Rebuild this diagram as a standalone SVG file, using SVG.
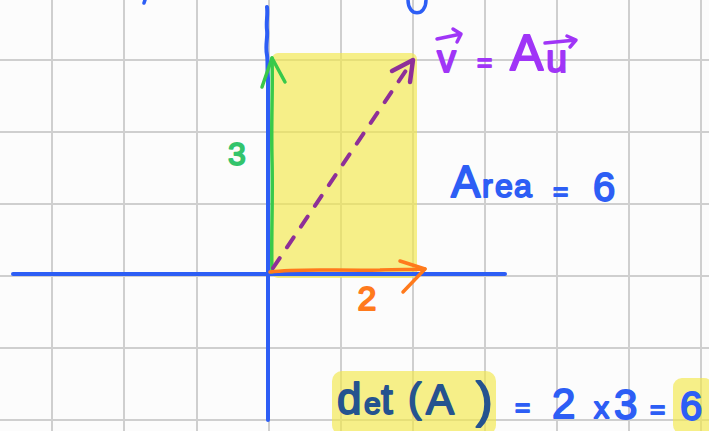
<svg xmlns="http://www.w3.org/2000/svg" width="709" height="431" viewBox="0 0 709 431">
  <style>
    .grid { stroke: #cfcfcf; stroke-width: 2; fill: none; }
    .axis { stroke: #2d5ef5; stroke-width: 4; fill: none; stroke-linecap: round; stroke-linejoin: round; }
    .hl { fill: #f3e84a; opacity: 0.65; }
    .ink { fill: none; stroke-linecap: round; stroke-linejoin: round; }
    .txt { font-family: "Liberation Sans", "Noto Sans", sans-serif; stroke-width: 1.8; stroke-linejoin: round; }
    .purple { fill: #a035f7; stroke: #a035f7; }
    .blue { fill: #2d5ef5; stroke: #2d5ef5; }
    .navy { fill: #25538f; stroke: #25538f; }
    .green { fill: #33c46c; stroke: #33c46c; }
    .orange { fill: #ff7a1c; stroke: #ff7a1c; }
  </style>
  <rect width="709" height="431" fill="#fcfcfc"/>
  <g id="grid" class="grid">
    <path d="M52,0V431M124,0V431M197,0V431M269,0V431M341,0V431M413,0V431M485,0V431M557,0V431M629,0V431M701,0V431"/>
    <path d="M0,60H709M0,132H709M0,204H709M0,276H709M0,348H709M0,420H709"/>
  </g>
  <g id="highlights">
    <rect class="hl" x="272" y="53" width="145" height="225" rx="6"/>
    <rect class="hl" x="332" y="371" width="164" height="64" rx="10"/>
    <rect class="hl" x="673" y="378" width="40" height="56" rx="9"/>
  </g>
  <g id="axes" class="axis">
    <path d="M13,274H505"/>
    <path d="M267,7C268,15 266,22 267,30C268,38 265,45 267,55C268,62 267,70 268,78V420"/>
    <path d="M145,0L144,3" stroke-width="3.5"/>
    <path d="M408,0C408,17 426,17 426,0" stroke-width="3.5"/>
  </g>
  <g id="connectors">
    <g id="vec-green" class="ink" stroke="#38c94a" stroke-width="3.5">
      <path d="M272,272C271,240 273,200 272,160C271,120 273,90 272,58"/>
      <path d="M262,87L272,58L285,82"/>
    </g>
    <g id="vec-orange" class="ink" stroke="#ff7a1c" stroke-width="3.5">
      <path d="M270,272C300,268 340,271 380,270C400,269 412,270 425,269"/>
      <path d="M400,261L425,269L403,292"/>
    </g>
    <g id="vec-purple" class="ink" stroke="#8e2f98" stroke-width="4">
      <path d="M273,268L411,63" stroke-dasharray="12 13"/>
      <path d="M392,71L413,60L410,82" stroke-width="4.5"/>
    </g>
  </g>
  <g id="label-3">
    <text class="txt green" x="237" y="165" font-size="32" text-anchor="middle">3</text>
  </g>
  <g id="label-2">
    <text class="txt orange" x="367" y="310" font-size="34" text-anchor="middle">2</text>
  </g>
  <g id="label-vAu">
    <text class="txt purple"><tspan x="437" y="72" font-size="38">v</tspan><tspan x="477" y="71" font-size="26">=</tspan><tspan x="510" y="70" font-size="50">A</tspan><tspan x="546" y="72" font-size="38">u</tspan></text>
    <path class="ink" stroke="#a035f7" stroke-width="3.5" d="M437,39L461,34M453,29L461,34L457,42"/>
    <path class="ink" stroke="#a035f7" stroke-width="3.5" d="M545,43L576,40M567,36L576,40L570,47"/>
  </g>
  <g id="label-area">
    <text class="txt blue"><tspan x="451" y="197" font-size="44">A</tspan><tspan x="482" y="197" font-size="32">r</tspan><tspan x="495" y="197" font-size="32">e</tspan><tspan x="514" y="197" font-size="32">a</tspan><tspan x="553" y="200" font-size="26">=</tspan><tspan x="593" y="201" font-size="40">6</tspan></text>
  </g>
  <g id="label-det">
    <text class="txt navy"><tspan x="337" y="414" font-size="44">d</tspan><tspan x="364" y="414" font-size="30">e</tspan><tspan x="381" y="414" font-size="42">t</tspan><tspan x="408" y="412" font-size="40">(</tspan><tspan x="426" y="414" font-size="42">A</tspan><tspan x="476" y="417" font-size="50">)</tspan></text>
    <text class="txt blue"><tspan x="515" y="416" font-size="26">=</tspan><tspan x="552" y="418" font-size="42">2</tspan><tspan x="594" y="418" font-size="30">x</tspan><tspan x="614" y="419" font-size="42">3</tspan><tspan x="650" y="418" font-size="26">=</tspan></text>
    <text class="txt blue" x="680" y="420" font-size="40">6</text>
  </g>
</svg>
